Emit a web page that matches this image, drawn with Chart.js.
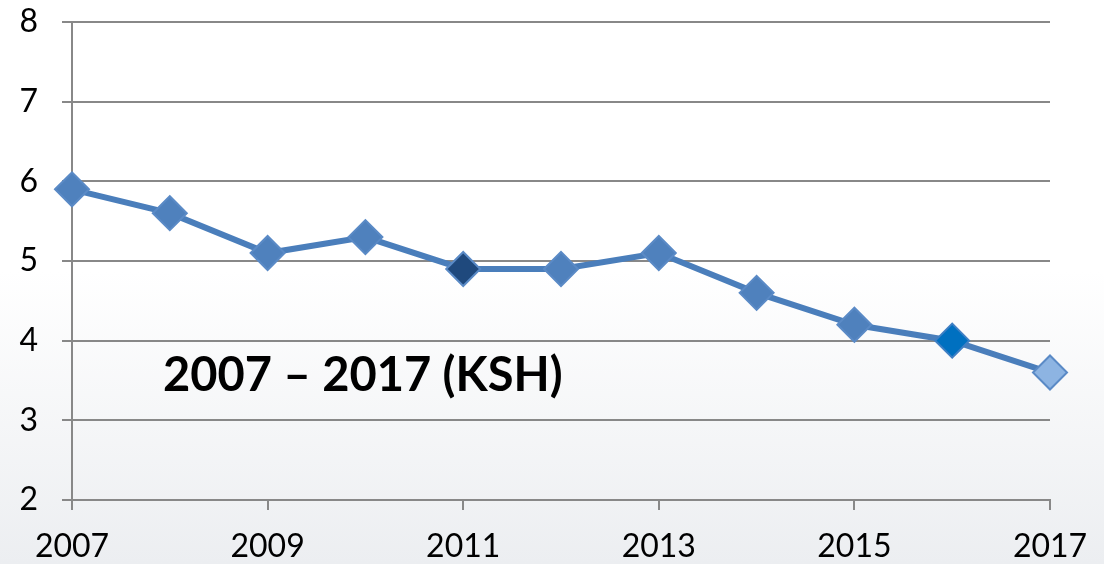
<!DOCTYPE html>
<html>
<head>
<meta charset="utf-8">
<script src="https://cdn.jsdelivr.net/npm/chart.js@4"></script>
<style>
  html, body { margin: 0; padding: 0; }
  body {
    width: 1104px; height: 564px; overflow: hidden; position: relative;
    background: linear-gradient(to bottom, #ffffff 0%, #ffffff 48%, #eceef1 100%);
  }
  #wrap { position: absolute; left: 0; top: 0; width: 1104px; height: 564px; }
  #note {
    position: absolute; left: 163px; top: 350px;
    font-family: Lato, "Open Sans", sans-serif; font-weight: bold;
    font-size: 47px; line-height: 47px; color: #000; white-space: nowrap;
  }
</style>
</head>
<body>
<div id="wrap"><canvas id="lineChart"></canvas></div>
<div id="note">2007 – 2017 (KSH)</div>
<script>
// Data
const years = ['2007', '2008', '2009', '2010', '2011', '2012', '2013', '2014', '2015', '2016', '2017'];
const values = [5.9, 5.6, 5.1, 5.3, 4.9, 4.9, 5.1, 4.6, 4.2, 4.0, 3.6];
const yTicks = [2, 3, 4, 5, 6, 7, 8];

// per-point marker colours
const fills = years.map(y => y === '2011' ? '#1f497d' : y === '2016' ? '#0070c0' : y === '2017' ? '#8db4e2' : '#4f81bd');
const borders = years.map(y => y === '2016' ? '#3f7fc4' : '#5a8ac6');

const gridGrey = '#888888';

function updateChart() {
    const ctx = document.getElementById('lineChart').getContext('2d');
    if (window.myChart) window.myChart.destroy();

    window.myChart = new Chart(ctx, {
        type: 'line',
        data: {
            labels: years,
            datasets: [{
                data: values,
                borderColor: '#4a7ebb',
                borderWidth: 6,
                tension: 0,
                pointStyle: 'rectRot',
                pointRadius: 17,
                pointHoverRadius: 17,
                pointBackgroundColor: fills,
                pointBorderColor: borders,
                pointBorderWidth: 2
            }]
        },
        options: {
            responsive: false,
            animation: false,
            events: [],
            layout: {
                padding: { left: 0, right: 54, top: 22, bottom: 0 }
            },
            plugins: {
                legend: { display: false },
                tooltip: { enabled: false }
            },
            scales: {
                x: {
                    type: 'category',
                    offset: false,
                    border: { color: gridGrey, width: 2 },
                    grid: {
                        drawOnChartArea: false,
                        drawTicks: true,
                        tickLength: 10,
                        lineWidth: 2,
                        color: c => (c.index % 2 === 0) ? gridGrey : 'rgba(0,0,0,0)'
                    },
                    ticks: {
                        autoSkip: false,
                        maxRotation: 0,
                        padding: 17,
                        color: '#000',
                        font: { family: 'Lato', size: 32 },
                        callback: function (val, i) { return i % 2 === 0 ? years[i] : ''; }
                    },
                    afterFit: s => { s.height = 64; s.paddingLeft = 0; s.paddingRight = 0; }
                },
                y: {
                    min: yTicks[0],
                    max: yTicks[yTicks.length - 1],
                    border: { color: gridGrey, width: 2 },
                    grid: {
                        color: gridGrey,
                        lineWidth: 2,
                        tickLength: 10
                    },
                    ticks: {
                        stepSize: 1,
                        padding: 24,
                        color: '#000',
                        font: { family: 'Lato', size: 32 }
                    },
                    afterBuildTicks: s => { s.ticks = yTicks.map(v => ({ value: v })); },
                    afterFit: s => { s.width = 72; s.paddingTop = 0; s.paddingBottom = 0; }
                }
            }
        }
    });
}

const cv = document.getElementById('lineChart');
cv.width = 1104; cv.height = 564;
cv.style.width = '1104px'; cv.style.height = '564px';
updateChart();
</script>
</body>
</html>
